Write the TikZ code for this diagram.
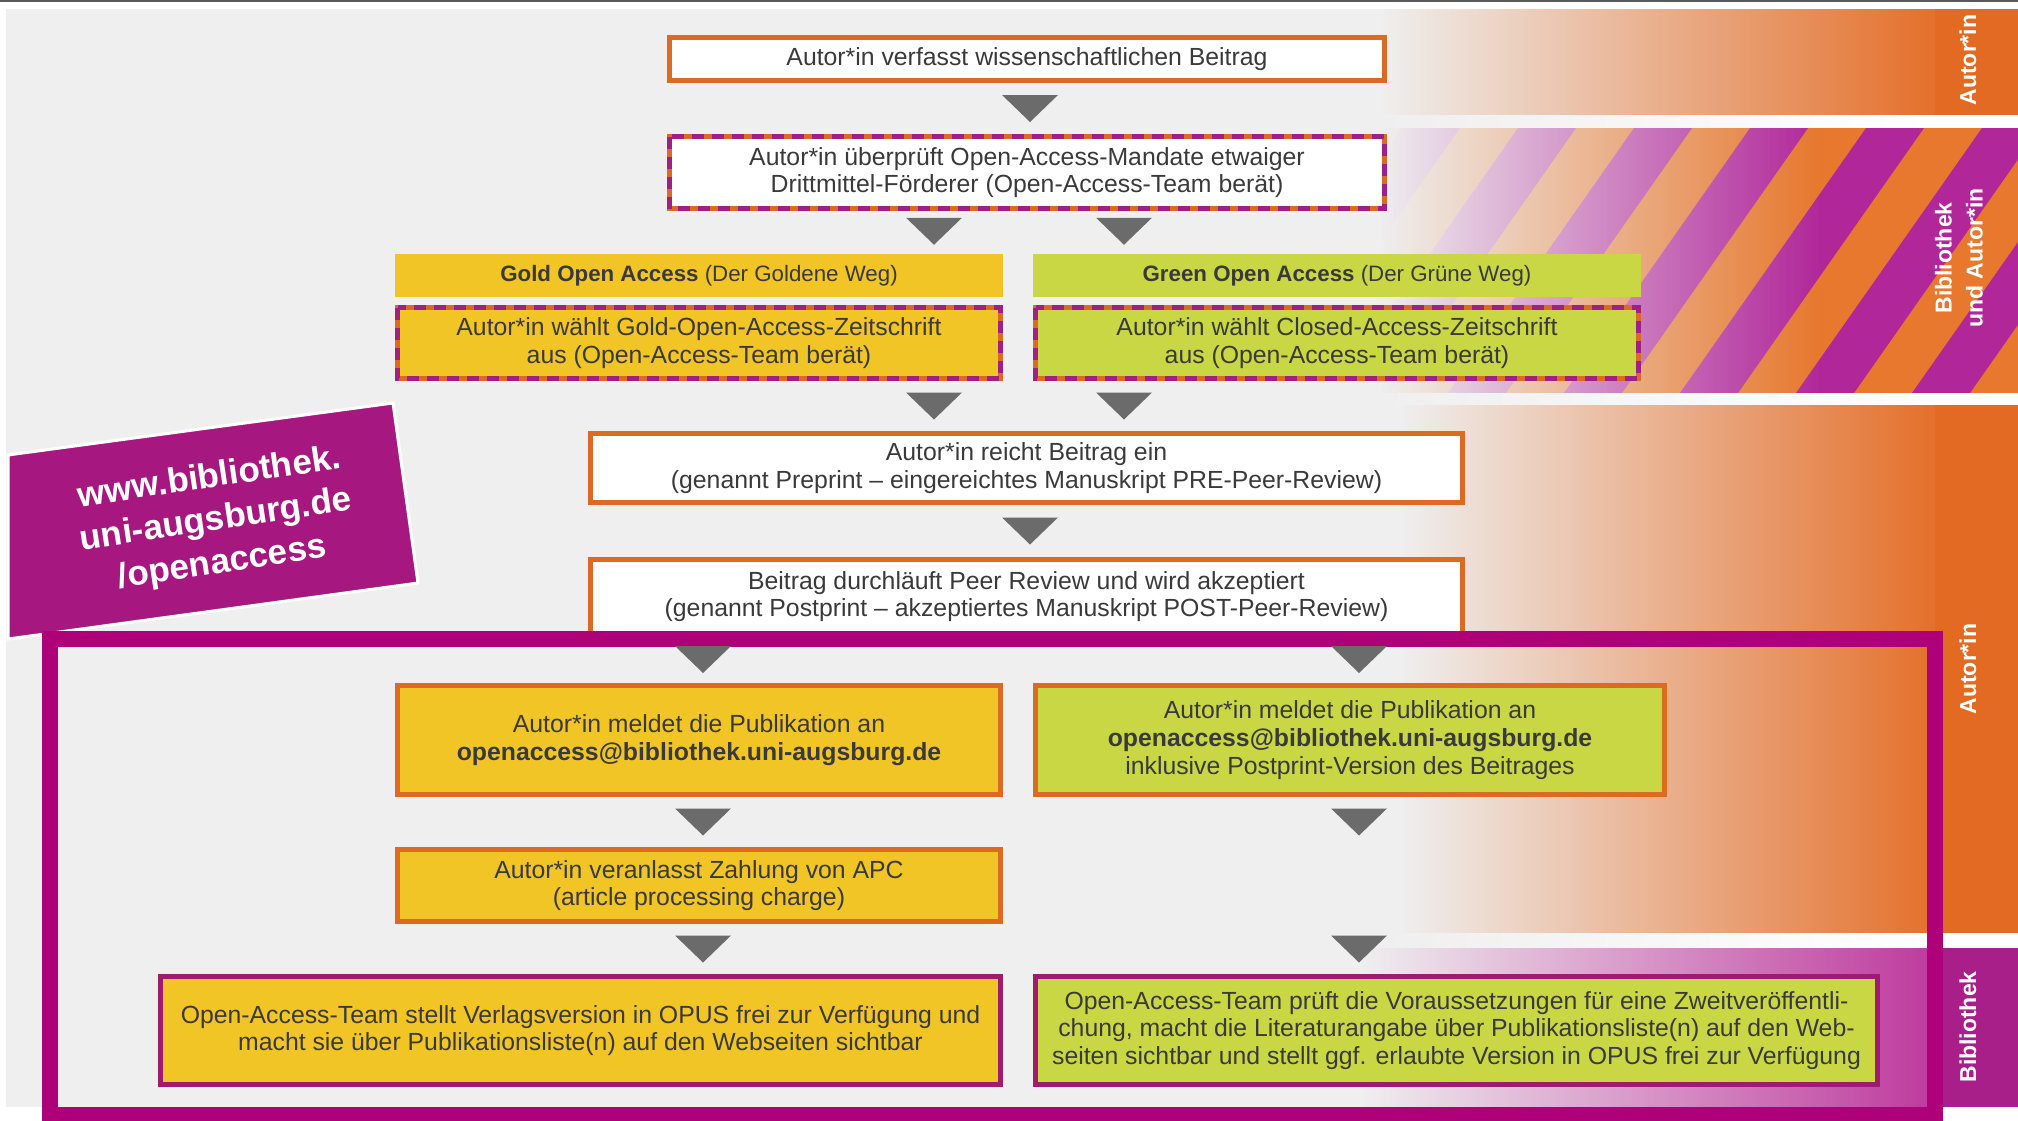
\documentclass[tikz,border=0pt]{standalone}
\usepackage{fontspec}
\setmainfont{Liberation Sans}
\usetikzlibrary{calc,fadings}
\definecolor{bgg}{HTML}{EFEFEF}
\definecolor{oborder}{HTML}{DD6A22}
\definecolor{bandorange}{HTML}{E4702B}
\definecolor{colorange}{HTML}{E26A23}
\definecolor{goldc}{HTML}{F1C526}
\definecolor{greenc}{HTML}{C9D744}
\definecolor{trigray}{HTML}{6B6B6B}
\definecolor{framepurple}{HTML}{AE0079}
\definecolor{urlpurple}{HTML}{A6177F}
\definecolor{stripepurple}{HTML}{B1279A}
\definecolor{stripeorange}{HTML}{E7782E}
\definecolor{finalborder}{HTML}{A01A70}
\definecolor{dashpurple}{HTML}{9E1F86}
\definecolor{bandpurple}{HTML}{BE3A9E}
\definecolor{colpurple}{HTML}{A81F8A}
\definecolor{txtc}{HTML}{3A3A3A}
\definecolor{darkline}{HTML}{5A5A5A}
\tikzfading[name=fadeR, left color=transparent!0, right color=transparent!100]
\newcommand\ptri[3]{%
  \coordinate (tmpc) at ($(#2)!0.5!(#3)$);
  \fill[tri] (#1,0 |- tmpc) ++(-28,-13.5) -- ++(56,0) -- ++(-28,27) -- cycle;}
\begin{document}
\begin{tikzpicture}[x=0.5pt,y=-0.5pt,
  sz/.style 2 args={minimum width=#1*0.5pt, minimum height=#2*0.5pt},
  txt/.style={font=\fontsize{12.4}{13.8}\selectfont, text=txtc, align=center, inner sep=0pt, outer sep=0pt},
  obox/.style={txt, draw=oborder, line width=2.5pt, fill=white},
  pbox/.style={txt, draw=finalborder, line width=2.5pt},
  hdr/.style={font=\fontsize{11.15}{13}\selectfont, text=txtc, align=center, inner sep=0pt, outer sep=0pt},
  dashp/.style={draw=dashpurple, line width=2.5pt, dash pattern=on 6pt off 4pt},
  tri/.style={fill=trigray},
  lbl/.style={font=\bfseries\fontsize{11.5}{15.5}\selectfont, text=white, align=center, inner sep=0pt},
  urltext/.style={font=\bfseries\fontsize{17.5}{21.5}\selectfont, text=white, align=center, inner sep=0pt}]
\useasboundingbox (0,0) rectangle (2018,1120);
\fill[white] (0,0) rectangle (2018,1120);
\fill[darkline] (0,0) rectangle (2018,2);
\fill[bgg] (6,9) rectangle (2018,1107);
% right bands
\shade[left color=bgg, right color=bandorange] (1380,9) rectangle (1935,115);
\fill[colorange] (1935,9) rectangle (2018,115);
\shade[left color=bgg, right color=white] (1380,115) rectangle (1935,128);
\fill[white] (1935,115) rectangle (2018,128);
\begin{scope}
  \clip (1380,128) rectangle (2018,393);
  \fill[stripeorange] (1380,128) rectangle (2018,393);
  \foreach \k in {0,...,9}{
    \fill[stripepurple] (1100+\k*116,393) -- (1158+\k*116,393) -- (1344+\k*116,128) -- (1286+\k*116,128) -- cycle;
  }
  \fill[bgg, path fading=fadeR] (1380,128) rectangle (1820,393);
\end{scope}
\shade[left color=bgg, right color=white] (1380,393) rectangle (1935,405);
\fill[white] (1935,393) rectangle (2018,405);
\shade[left color=bgg, right color=bandorange] (1400,405) rectangle (1935,933);
\fill[colorange] (1935,405) rectangle (2018,933);
\shade[left color=bgg, right color=white] (1380,933) rectangle (1935,948);
\fill[white] (1935,933) rectangle (2018,948);
\shade[left color=bgg, right color=bandpurple] (1360,948) rectangle (1935,1107);
\fill[colpurple] (1935,948) rectangle (2018,1107);
% URL label
\filldraw[fill=urlpurple, draw=white, line width=1.5pt] (8,455) -- (393,403) -- (418,583) -- (8,639) -- cycle;
\node[urltext, rotate=8.5] (url) at (216,521) {www.bibliothek.\\uni-augsburg.de\\/openaccess};
% boxes
\node[obox, sz={715}{43}] (b1) at (1027,59) {Autor*in verfasst wissenschaftlichen Beitrag};
\node[obox, sz={715}{72}] (b2) at (1027,172.5) {Autor*in überprüft Open-Access-Mandate etwaiger\\Drittmittel-Förderer (Open-Access-Team berät)};
\draw[dashp] (b2.north west) rectangle (b2.south east);
\node[hdr, fill=goldc, sz={608}{43}] (gh) at (699,275.5) {\textbf{Gold Open Access} (Der Goldene Weg)};
\node[hdr, fill=greenc, sz={608}{43}] (grh) at (1337,275.5) {\textbf{Green Open Access} (Der Grüne Weg)};
\node[obox, fill=goldc, sz={603}{71}] (gb) at (699,343) {Autor*in wählt Gold-Open-Access-Zeitschrift\\aus (Open-Access-Team berät)};
\draw[dashp] (gb.north west) rectangle (gb.south east);
\node[obox, fill=greenc, sz={603}{71}] (grb) at (1337,343) {Autor*in wählt Closed-Access-Zeitschrift\\aus (Open-Access-Team berät)};
\draw[dashp] (grb.north west) rectangle (grb.south east);
\node[obox, sz={872}{69}] (b3) at (1026.5,468) {Autor*in reicht Beitrag ein\\(genannt Preprint – eingereichtes Manuskript PRE-Peer-Review)};
\node[obox, sz={872}{74}] (b4) at (1026.5,596.5) {Beitrag durchläuft Peer Review und wird akzeptiert\\(genannt Postprint – akzeptiertes Manuskript POST-Peer-Review)};
\node[obox, fill=goldc, sz={603}{109}] (gm) at (699,740) {Autor*in meldet die Publikation an\\\textbf{openaccess@bibliothek.uni-augsburg.de}};
\node[obox, fill=greenc, sz={629}{109}] (grm) at (1350,740) {Autor*in meldet die Publikation an\\\textbf{openaccess@bibliothek.uni-augsburg.de}\\inklusive Postprint-Version des Beitrages};
\node[obox, fill=goldc, sz={603}{72}] (ga) at (699,885.5) {Autor*in veranlasst Zahlung von APC\\(article processing charge)};
\node[pbox, fill=goldc, sz={840}{108}] (gf) at (580.5,1030.5) {Open-Access-Team stellt Verlagsversion in OPUS frei zur Verfügung und\\macht sie über Publikationsliste(n) auf den Webseiten sichtbar};
\node[pbox, fill=greenc, sz={842}{108}] (grf) at (1456.5,1030.5) {Open-Access-Team prüft die Voraussetzungen für eine Zweitveröffentli-\\chung, macht die Literaturangabe über Publikationsliste(n) auf den Web-\\seiten sichtbar und stellt ggf. erlaubte Version in OPUS frei zur Verfügung};
% frame
\draw[framepurple, line width=8pt] (50,639) rectangle (1935,1115);
% triangles
\ptri{1030}{b1.south}{b2.north}
\ptri{934}{b2.south}{gh.north}
\ptri{1124}{b2.south}{grh.north}
\ptri{934}{gb.south}{b3.north}
\ptri{1124}{grb.south}{b3.north}
\ptri{1030}{b3.south}{b4.north}
\ptri{703}{b4.south}{gm.north}
\ptri{1359}{b4.south}{grm.north}
\ptri{703}{gm.south}{ga.north}
\ptri{1359}{grm.south}{ga.north}
\ptri{703}{ga.south}{gf.north}
\ptri{1359}{ga.south}{grf.north}
% side labels
\node[lbl, rotate=90] (l1) at (1968,60) {Autor*in};
\node[lbl, rotate=90] (l2) at (1959,258) {Bibliothek\\und Autor*in};
\node[lbl, rotate=90] (l3) at (1968,669) {Autor*in};
\node[lbl, rotate=90] (l4) at (1968,1027) {Bibliothek};
\end{tikzpicture}
\end{document}
